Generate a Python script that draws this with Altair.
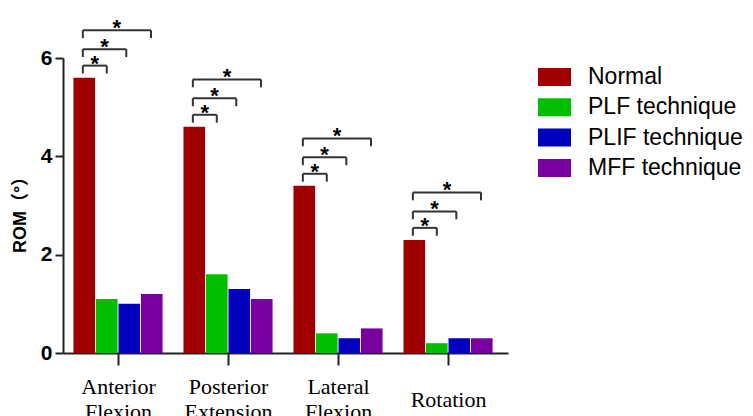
import json
import altair as alt
import pandas as pd

# ---- data ----
categories = [["Anterior", "Flexion"], ["Posterior", "Extension"], ["Lateral", "Flexion"], ["Rotation"]]
series = ["Normal", "PLF technique", "PLIF technique", "MFF technique"]
colors = ["#A00000", "#00BE00", "#0000BE", "#7800A0"]
normal = [5.6, 4.6, 3.4, 2.3]
plf = [1.1, 1.6, 0.4, 0.2]
plif = [1.0, 1.3, 0.3, 0.3]
mff = [1.2, 1.1, 0.5, 0.3]
y_ticks = [0, 2, 4, 6]
star_text = "*"

# ---- style constants ----
BW = 0.2045          # bar width in group units
GAP = 0.004
BR_OFF = [0.245, 0.58, 0.965]   # bracket heights above the Normal bar
LEG = 0.16
SHIFT = [-0.013, 0.0, -0.027, -0.007]

values = [normal, plf, plif, mff]

def center(g, s):
    return g + 0.5 + (s - 1.5) * BW

bars = []
for g in range(len(categories)):
    for s, name in enumerate(series):
        c = center(g, s)
        bars.append({"x": c - BW / 2 + GAP, "x2": c + BW / 2 - GAP, "y": values[s][g], "series": name})
bars = pd.DataFrame(bars)

segs, stars = [], []
for g in range(len(categories)):
    xl = center(g, 0) + SHIFT[0]
    for k in range(1, 4):
        xr = center(g, k) + SHIFT[k]
        yh = normal[g] + BR_OFF[k - 1]
        segs.append({"x": xl, "x2": xl, "y": yh - LEG, "y2": yh})
        segs.append({"x": xl, "x2": xr, "y": yh, "y2": yh})
        segs.append({"x": xr, "x2": xr, "y": yh, "y2": yh - LEG})
        stars.append({"x": (xl + xr) / 2, "y": yh, "t": star_text})
segs = pd.DataFrame(segs)
stars = pd.DataFrame(stars)

label_expr = ""
for i, cat in enumerate(categories[:-1]):
    label_expr += f"datum.value < {i + 1} ? {json.dumps(cat)} : "
label_expr += json.dumps(categories[-1])
single_line_test = " || ".join(
    f"(datum.value > {i} && datum.value < {i + 1})" for i, c in enumerate(categories) if len(c) == 1)

xscale = alt.Scale(domain=[0, 4.045], nice=False, zero=False)
yscale = alt.Scale(domain=[0, 6], nice=False)
xaxis = alt.Axis(values=[i + 0.5 for i in range(len(categories))], labelExpr=label_expr,
                 title=None, grid=False, tickSize=12, tickWidth=2, domainWidth=2,
                 domainColor="#222", tickColor="#222", labelFont="Liberation Serif",
                 labelFontSize=22, labelColor="black",
                 labelBaseline={"condition": {"test": single_line_test, "value": "middle"},
                                "value": "line-bottom"},
                 labelLineHeight=25, labelPadding=34, labelFlush=False)
yaxis = alt.Axis(values=y_ticks, title="ROM（°）", grid=False, tickSize=8, tickWidth=2,
                 domainWidth=2, domainColor="#222", tickColor="#222",
                 labelFont="Liberation Sans", labelFontWeight="bold", labelFontSize=21,
                 labelColor="black", labelPadding=3,
                 titleFont="Liberation Sans, Noto Sans CJK SC", titleFontWeight="bold",
                 titleFontSize=18, titleColor="black", titleAngle=270, titleAlign="center",
                 titleBaseline="middle", titleX=-43, titleY=152)

xe = alt.X("x:Q", scale=xscale, axis=xaxis)
ye = alt.Y("y:Q", scale=yscale, axis=yaxis)

bar_layer = alt.Chart(bars).mark_bar().encode(
    x=xe, x2="x2:Q", y=ye, y2=alt.datum(0),
    color=alt.Color("series:N", sort=series, scale=alt.Scale(domain=series, range=colors),
                    legend=alt.Legend(orient="none", legendX=475, legendY=2.5, title=None,
                                      symbolType="M-1,-0.545L1,-0.545L1,0.545L-1,0.545Z",
                                      symbolSize=1089, symbolStrokeWidth=0, symbolOpacity=1,
                                      labelFont="Liberation Sans", labelFontSize=23,
                                      labelColor="black", labelOffset=17, rowPadding=1.3,
                                      padding=0, labelLimit=300)),
)

rule_layer = alt.Chart(segs).mark_rule(color="#333", strokeWidth=2).encode(
    x=xe, x2="x2:Q", y=ye, y2="y2:Q")

star_layer = alt.Chart(stars).mark_text(font="Liberation Sans", fontSize=22, fontWeight="bold",
                                        color="black", baseline="alphabetic", dy=5).encode(
    x=xe, y=ye, text="t:N")

chart = alt.layer(bar_layer, rule_layer, star_layer).properties(
    width=445, height=295,
    padding={"left": 55, "top": 50, "right": 237, "bottom": 63},
    autosize=alt.AutoSizeParams(type="none"),
).configure_view(strokeWidth=0)

chart.save("out.html", embed_options={"renderer": "svg", "actions": False})
